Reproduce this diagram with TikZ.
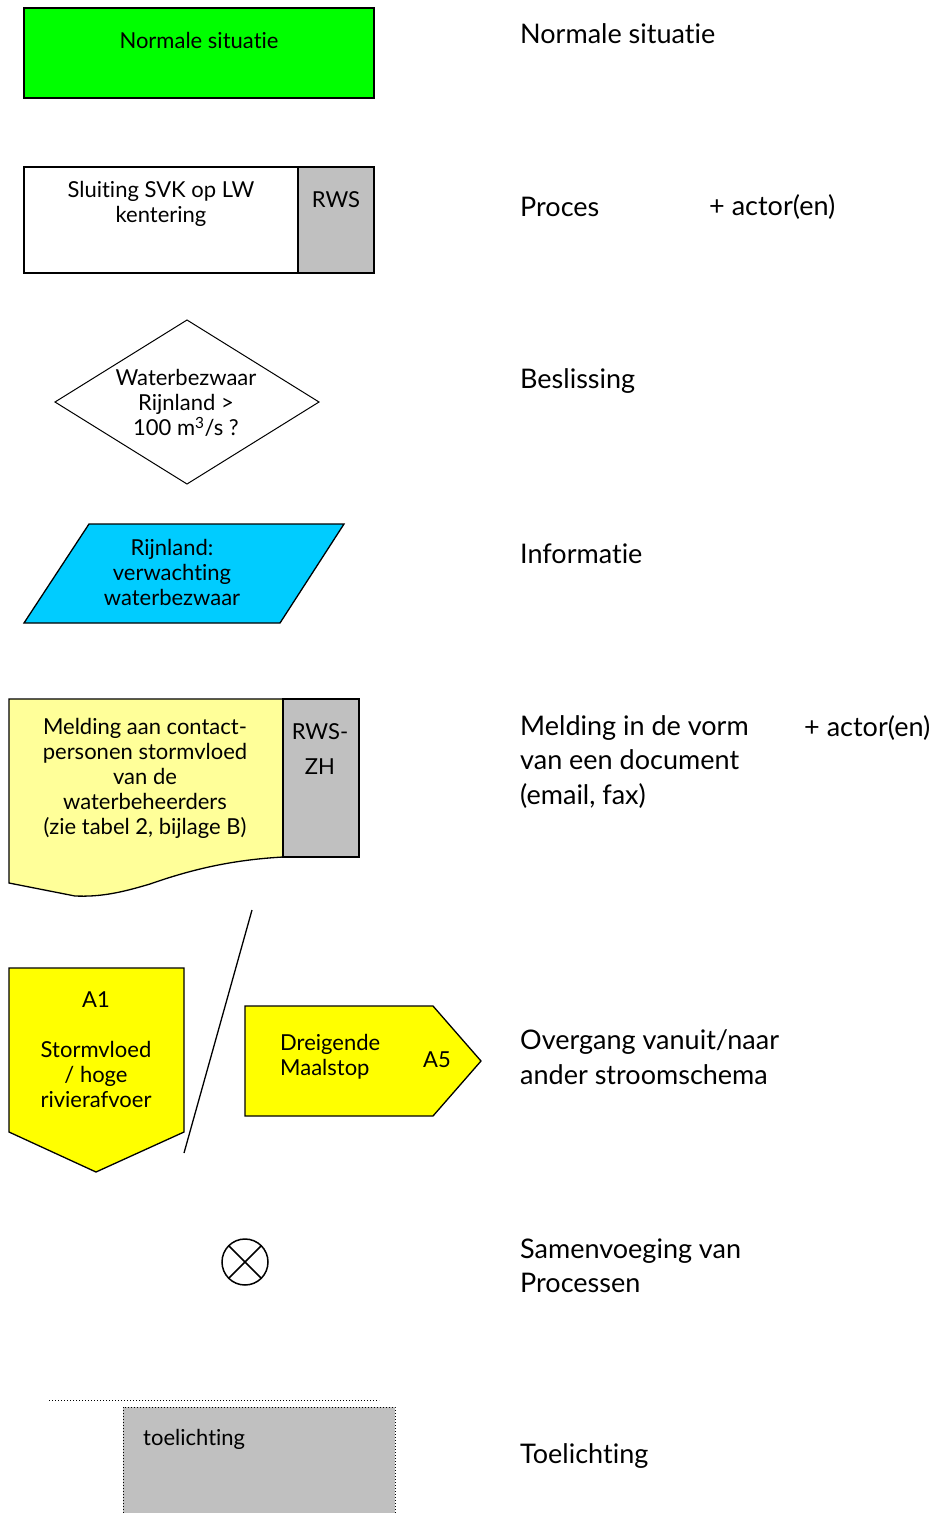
\documentclass[tikz,border=0pt]{standalone}
\usepackage{fontspec}
\setmainfont{Lato}[Ligatures=NoCommon]
\definecolor{normgreen}{HTML}{00FF00}
\definecolor{actorgray}{HTML}{C0C0C0}
\definecolor{infocyan}{HTML}{00CCFF}
\definecolor{docyellow}{HTML}{FFFF99}
\definecolor{linkyellow}{HTML}{FFFF00}
\tikzset{
  shapetext/.style={align=center, inner sep=0pt, font=\fontsize{22}{25}\selectfont},
  legend/.style={anchor=west, align=left, inner sep=0pt, font=\fontsize{27}{34.5}\selectfont},
  outline/.style={draw=black, line width=1.3pt}
}
\begin{document}
\begin{tikzpicture}[x=1pt, y=-1pt]
\useasboundingbox (0,0) rectangle (942,1513);

%Normale situatie
\filldraw [outline, fill=normgreen] (24,8) rectangle (374,98);
\node [shapetext] (norm) at (199,40) {Normale situatie};

%Proces + actor
\filldraw [outline, fill=white] (24,167) rectangle (298,273);
\filldraw [outline, fill=actorgray] (298,167) rectangle (374,273);
\node [shapetext] (proc) at (161,203.5) {Sluiting SVK op LW\\kentering};
\node [shapetext] (procactor) at (336,200) {RWS};

%Beslissing
\filldraw [outline, line width=1pt, fill=white] (55,402) -- (187,320) -- (319,402) -- (187,484) -- cycle;
\node [shapetext] (dec) at (186,403) {Waterbezwaar\\Rijnland >\\100 m\textsuperscript{3}/s ?};

%Informatie
\filldraw [outline, fill=infocyan] (89,524) -- (344,524) -- (280,623) -- (24,623) -- cycle;
\node [shapetext] (info) at (172,572) {Rijnland:\\verwachting\\waterbezwaar};

%Melding (document) + actor
\filldraw [outline, fill=docyellow] (9,699) -- (283,699) -- (283,857)
  .. controls (230,860) and (190,870) .. (150,884)
  .. controls (120,893) and (100,897) .. (75,896) -- (9,883) -- cycle;
\filldraw [outline, fill=actorgray] (283,699) rectangle (359,857);
\node [shapetext] (doc) at (145,778.5) {Melding aan contact-\\personen stormvloed\\van de\\waterbeheerders\\(zie tabel 2, bijlage B)};
\node [shapetext] (docactor) at (320,749.5) {RWS-\\[10pt]ZH};

%Overgang A1 / A5
\filldraw [outline, fill=linkyellow] (9,968) -- (184,968) -- (184,1132) -- (96,1172) -- (9,1132) -- cycle;
\node [shapetext] (ain) at (96,1050) {A1\\[25pt]Stormvloed\\/ hoge\\rivierafvoer};
\draw [line width=1.3pt] (252,910) -- (184,1153);
\filldraw [outline, fill=linkyellow] (245,1006) -- (433,1006) -- (481,1061) -- (433,1116) -- (245,1116) -- cycle;
\node [shapetext, align=left, anchor=west] (aout) at (280,1056.5) {Dreigende\\Maalstop};
\node [shapetext] (aoutnr) at (437,1060) {A5};

%Samenvoeging
\draw [line width=1.5pt] (245,1262) circle (23);
\draw [line width=1.5pt] (245,1262) ++(-16.3,-16.3) -- ++(32.6,32.6);
\draw [line width=1.5pt] (245,1262) ++(16.3,-16.3) -- ++(-32.6,32.6);

%Toelichting
\draw [dotted, line width=1pt] (49,1400) -- (379,1400);
\fill [actorgray] (123,1407) rectangle (395,1513);
\draw [dotted, line width=1pt] (123,1513) -- (123,1407) -- (395,1407) -- (395,1513);
\node [shapetext, anchor=west] (note) at (143,1439) {toelichting};

%Legend labels
\node [legend] (l1) at (520,34) {Normale situatie};
\node [legend] (l2) at (520,207) {Proces};
\node [legend] (l2b) at (709,207) {+ actor(en)};
\node [legend] (l3) at (520,381) {Beslissing};
\node [legend] (l4) at (520,554) {Informatie};
\node [legend] (l5) at (520,762) {Melding in de vorm\\van een document\\(email, fax)};
\node [legend] (l5b) at (804,728) {+ actor(en)};
\node [legend] (l6) at (520,1057) {Overgang vanuit/naar\\ander stroomschema};
\node [legend] (l7) at (520,1265.5) {Samenvoeging van\\Processen};
\node [legend] (l8) at (520,1456) {Toelichting};

\end{tikzpicture}
\end{document}
